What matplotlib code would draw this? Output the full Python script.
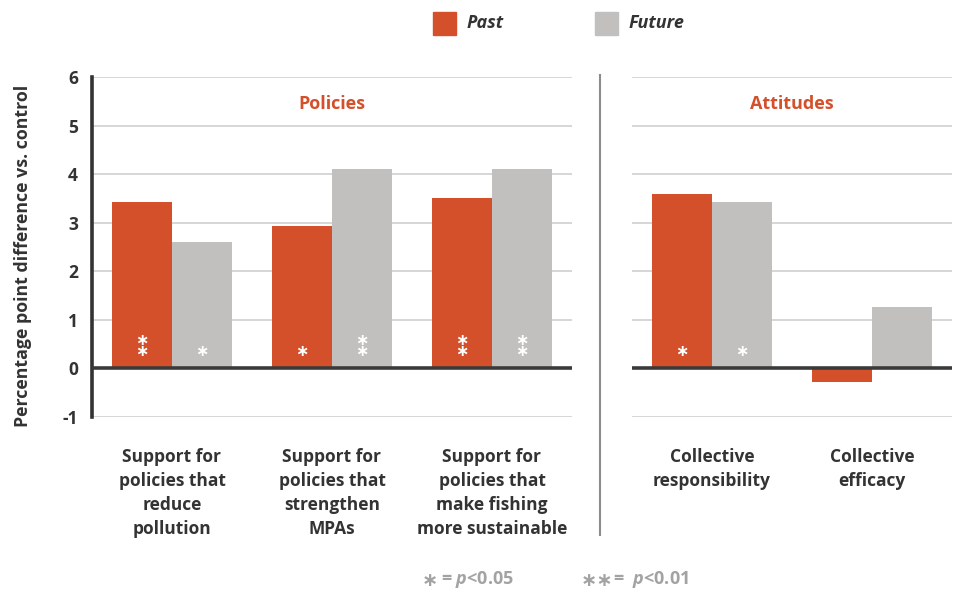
import numpy as np
import matplotlib.pyplot as plt

# data
policy_labels = ["Support for\npolicies that\nreduce\npollution",
                 "Support for\npolicies that\nstrengthen\nMPAs",
                 "Support for\npolicies that\nmake fishing\nmore sustainable"]
policy_past = [3.42, 2.93, 3.50]
policy_future = [2.60, 4.10, 4.10]
policy_sig_past = [2, 1, 2]
policy_sig_future = [1, 2, 2]

attitude_labels = ["Collective\nresponsibility", "Collective\nefficacy"]
attitude_past = [3.59, -0.27]
attitude_future = [3.42, 1.26]
attitude_sig_past = [1, 0]
attitude_sig_future = [1, 0]

yticks = [-1, 0, 1, 2, 3, 4, 5, 6]

ORANGE = "#D4502B"
GRAY = "#C1C0BE"
DARK = "#333333"
NOTE = "#A3A3A3"

plt.rcParams['font.family'] = ['Open Sans', 'DejaVu Sans']
plt.rcParams['axes.unicode_minus'] = False
plt.rcParams['mathtext.fontset'] = 'custom'
plt.rcParams['mathtext.it'] = 'Open Sans:italic:bold'
plt.rcParams['mathtext.rm'] = 'Open Sans:bold'

W, H = 956, 592
fig = plt.figure(figsize=(W / 100, H / 100), dpi=100)


def px(x0, y0, x1, y1):
    return [x0 / W, 1 - y1 / H, (x1 - x0) / W, (y1 - y0) / H]


ax1 = fig.add_axes(px(92, 77, 572, 417))
ax2 = fig.add_axes(px(632, 77, 952, 417))

bw = 0.375


def draw_panel(ax, labels, past, future, sp, sf, title, xlim):
    x = np.arange(len(labels))
    ax.bar(x - bw / 2, past, bw, color=ORANGE, zorder=2)
    ax.bar(x + bw / 2, future, bw, color=GRAY, zorder=2)
    for xs, sig in ((x - bw / 2, sp), (x + bw / 2, sf)):
        for xi, s in zip(xs, sig):
            if s == 0:
                continue
            ax.text(xi, 0.20, "\n".join(["∗"] * s), color="white",
                    ha="center", va="bottom", linespacing=0.62,
                    fontsize=11.5, fontweight="bold", family="DejaVu Sans", zorder=3)
    ax.set_xlim(*xlim)
    ax.set_ylim(-1.0, 6.0)
    ax.set_yticks(yticks)
    ax.grid(axis="y", color="#CFCFCF", linewidth=1.2, zorder=0)
    ax.axhline(0, color="#3A3A3A", linewidth=2.6, zorder=4)
    for s in ("top", "right", "bottom"):
        ax.spines[s].set_visible(False)
    ax.set_xticks(x)
    ax.set_xticklabels(labels, fontsize=12.5, fontweight="bold", color=DARK,
                       linespacing=1.43)
    ax.tick_params(axis="x", length=0, pad=22)
    ax.text(np.mean(x), 5.45, title, color=ORANGE, fontsize=13,
            fontweight="bold", ha="center", va="center")


draw_panel(ax1, policy_labels, policy_past, policy_future,
           policy_sig_past, policy_sig_future, "Policies", (-0.5, 2.5))
draw_panel(ax2, attitude_labels, attitude_past, attitude_future,
           attitude_sig_past, attitude_sig_future, "Attitudes", (-0.5, 1.5))

ax1.spines["left"].set_color(DARK)
ax1.spines["left"].set_linewidth(2.6)
ax1.tick_params(axis="y", length=0, pad=10, labelsize=12.5, labelcolor=DARK)
for t in ax1.get_yticklabels():
    t.set_fontweight("bold")
ax1.set_ylabel("Percentage point difference vs. control", fontsize=12.8,
               fontweight="bold", color=DARK)
ax1.yaxis.set_label_coords(-0.125, 0.475)

ax2.spines["left"].set_visible(False)
ax2.tick_params(axis="y", left=False, labelleft=False)

# divider between the panels
fig.add_artist(plt.Line2D([600 / W, 600 / W], [1 - 75 / H, 1 - 535 / H],
                          color="#8C8C8C", linewidth=1.5))

# legend
for xs, lab, col in ((433, "Past", ORANGE), (595, "Future", GRAY)):
    fig.patches.append(plt.Rectangle((xs / W, 1 - 35 / H), 23 / W, 23 / H,
                                     color=col, transform=fig.transFigure))
    fig.text((xs + 34) / W, 1 - 23 / H, lab, fontsize=13, fontstyle="italic",
             fontweight="bold", color=DARK, va="center", ha="left")

# significance footnote
fig.text(430 / W, 1 - 580 / H, "∗", family="DejaVu Sans", fontsize=14,
         fontweight="bold", color=NOTE, va="center", ha="center")
fig.text(597 / W, 1 - 580 / H, "∗∗", family="DejaVu Sans", fontsize=14,
         fontweight="bold", color=NOTE, va="center", ha="center")
fig.text(441 / W, 1 - 580 / H, r"= $p$<0.05", fontsize=13, fontweight="bold",
         color=NOTE, va="center", ha="left")
fig.text(613 / W, 1 - 580 / H, r"=  $p$<0.01", fontsize=13, fontweight="bold",
         color=NOTE, va="center", ha="left")

fig.savefig("out.png", dpi=100)
